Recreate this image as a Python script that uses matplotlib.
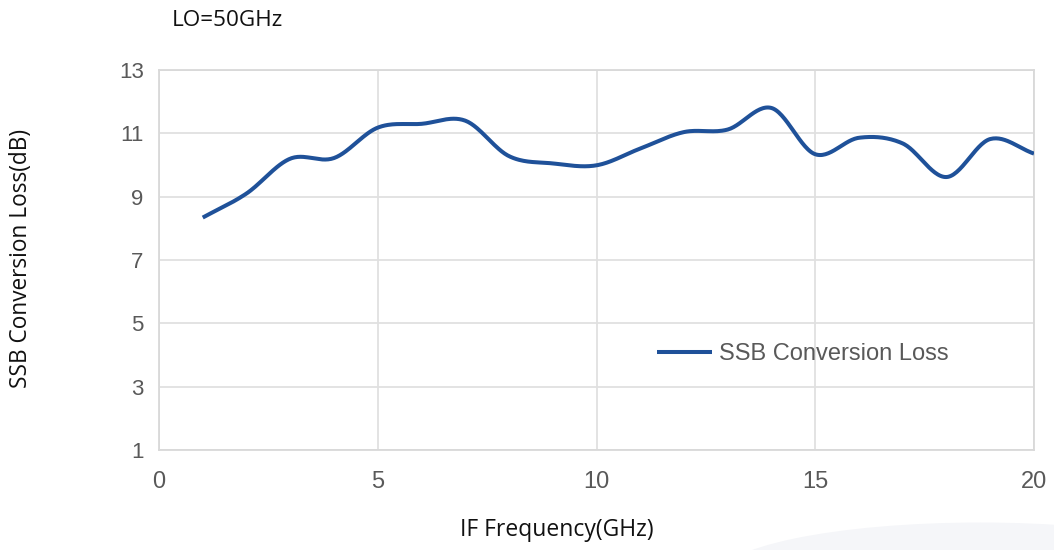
import numpy as np
import matplotlib
matplotlib.use("Agg")
import matplotlib.pyplot as plt
from matplotlib.patches import Ellipse

# Data
freq_ghz = [1, 2, 3, 4, 5, 6, 7, 8, 9, 10, 11, 12, 13, 14, 15, 16, 17, 18, 19, 20]
loss_db = [8.34, 9.10, 10.20, 10.22, 11.18, 11.30, 11.40, 10.28, 10.05, 9.99,
           10.52, 11.04, 11.12, 11.80, 10.34, 10.86, 10.68, 9.62, 10.82, 10.36]
x_ticks = [0, 5, 10, 15, 20]
y_ticks = [1, 3, 5, 7, 9, 11, 13]
series_name = "SSB Conversion Loss"


def smooth(xs, ys, n=30):
    """Catmull-Rom style smoothing (like a spreadsheet's smoothed line)."""
    xs = np.asarray(xs, float)
    ys = np.asarray(ys, float)
    px = np.concatenate([[2 * xs[0] - xs[1]], xs, [2 * xs[-1] - xs[-2]]])
    py = np.concatenate([[2 * ys[0] - ys[1]], ys, [2 * ys[-1] - ys[-2]]])
    outx, outy = [], []
    t = np.linspace(0, 1, n, endpoint=False)
    for i in range(1, len(px) - 2):
        p0x, p1x, p2x, p3x = px[i - 1:i + 3]
        p0y, p1y, p2y, p3y = py[i - 1:i + 3]
        c1x, c1y = p1x + (p2x - p0x) / 6, p1y + (p2y - p0y) / 6
        c2x, c2y = p2x - (p3x - p1x) / 6, p2y - (p3y - p1y) / 6
        bx = (1 - t) ** 3 * p1x + 3 * (1 - t) ** 2 * t * c1x + 3 * (1 - t) * t ** 2 * c2x + t ** 3 * p2x
        by = (1 - t) ** 3 * p1y + 3 * (1 - t) ** 2 * t * c1y + 3 * (1 - t) * t ** 2 * c2y + t ** 3 * p2y
        outx.extend(bx)
        outy.extend(by)
    outx.append(xs[-1])
    outy.append(ys[-1])
    return np.array(outx), np.array(outy)


plt.rcParams['font.family'] = ['Liberation Sans', 'DejaVu Sans']

fig = plt.figure(figsize=(10.54, 5.5), dpi=100)
fig.patch.set_facecolor('white')

# faint watermark arc bottom-right
wm = Ellipse((0.93, -0.05), 0.5, 0.2, transform=fig.transFigure,
             facecolor='#f5f6f9', edgecolor='none', zorder=0)
fig.patches.append(wm)

ax = fig.add_axes([159 / 1054, 100 / 550, 875 / 1054, 380 / 550])
sx, sy = smooth(freq_ghz, loss_db)
ax.plot(sx, sy, color='#1f5199', lw=2.9, solid_capstyle='butt', label=series_name, zorder=3)

ax.set_xlim(0, 20)
ax.set_ylim(1, 13)
ax.set_xticks(x_ticks)
ax.set_yticks(y_ticks)
ax.grid(True, color='#e0e0e0', lw=1.3)
ax.set_axisbelow(True)
for s in ax.spines.values():
    s.set_color('#d9d9d9')
    s.set_linewidth(1.3)
ax.tick_params(length=0, labelcolor='#595959')
ax.tick_params(axis='x', pad=15, labelsize=17)
ax.tick_params(axis='y', pad=11, labelsize=16)

leg = ax.legend(loc='center left', bbox_to_anchor=(0.569, 0.2526), frameon=False,
                fontsize=17, handlelength=2.35, handletextpad=0.3, borderaxespad=0,
                borderpad=0)
for t in leg.get_texts():
    t.set_color('#595959')

lab_font = ['Open Sans', 'DejaVu Sans']
fig.text(172 / 1054, 1 - 20 / 550, 'LO=50GHz', fontsize=16.2, family=lab_font,
         color='#111111', ha='left', va='center')
fig.text(557 / 1054, 1 - 530 / 550, 'IF Frequency(GHz)', fontsize=16.5, family=lab_font,
         color='#111111', ha='center', va='center')
fig.text(21 / 1054, 1 - 259 / 550, 'SSB Conversion Loss(dB)', fontsize=16.3, family=lab_font,
         color='#111111', ha='center', va='center', rotation=90)

fig.savefig('out.png', dpi=100, facecolor='white')
